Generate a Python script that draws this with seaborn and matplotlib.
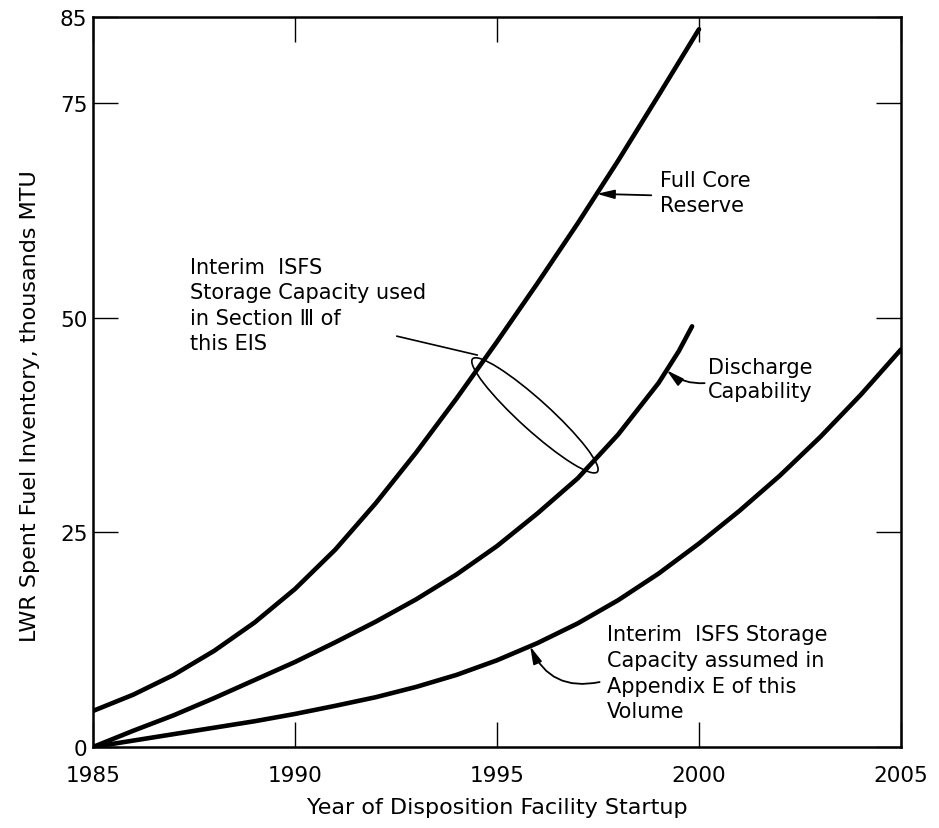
import numpy as np
import seaborn as sns
import matplotlib.pyplot as plt
from matplotlib.patches import Ellipse
from matplotlib.transforms import IdentityTransform

# ---- data (thousands MTU) ----
years_fc = [1985, 1986, 1987, 1988, 1989, 1990, 1991, 1992, 1993, 1994, 1995, 1996, 1997, 1998, 1999, 2000]
full_core = [4.2, 6.1, 8.4, 11.2, 14.5, 18.4, 23.0, 28.4, 34.3, 40.6, 47.2, 54.0, 61.0, 68.3, 75.9, 83.6]

years_dc = [1985, 1986, 1987, 1988, 1989, 1990, 1991, 1992, 1993, 1994, 1995, 1996, 1997, 1998, 1999, 1999.5, 1999.83]
discharge = [0.0, 1.9, 3.7, 5.7, 7.8, 9.9, 12.2, 14.6, 17.2, 20.1, 23.4, 27.2, 31.3, 36.4, 42.4, 46.1, 49.0]

years_ap = [1985, 1986, 1987, 1988, 1989, 1990, 1991, 1992, 1993, 1994, 1995,
            1996, 1997, 1998, 1999, 2000, 2001, 2002, 2003, 2004, 2005]
appendix_e = [0.0, 0.75, 1.5, 2.25, 3.0, 3.85, 4.8, 5.8, 7.0, 8.4, 10.1,
              12.1, 14.4, 17.1, 20.2, 23.7, 27.5, 31.6, 36.1, 41.0, 46.3]

x_ticks = [1985, 1990, 1995, 2000, 2005]
y_ticks = [0, 25, 50, 75, 85]

sns.set_style("ticks")
plt.rcParams['font.family'] = ['DejaVu Sans']
plt.rcParams['text.color'] = 'black'
plt.rcParams['axes.labelcolor'] = 'black'

fig, ax = plt.subplots(figsize=(9.39, 8.29), dpi=100)
fig.subplots_adjust(left=0.099, right=0.9595, bottom=0.0977, top=0.978)

for xs, ys in [(years_fc, full_core), (years_dc, discharge), (years_ap, appendix_e)]:
    sns.lineplot(x=xs, y=ys, ax=ax, color='black', linewidth=3.3, estimator=None)

ax.set_xlim(1985, 2005)
ax.set_ylim(0, 85)
ax.set_xticks(x_ticks)
ax.set_yticks(y_ticks)
ax.tick_params(direction='in', length=18, width=1, top=True, right=True,
               labelsize=15.5, colors='black')
ax.tick_params(axis='x', pad=13)
ax.tick_params(axis='y', pad=4)
for s in ax.spines.values():
    s.set_linewidth(1.8)
    s.set_color('black')

ax.set_xlabel('Year of Disposition Facility Startup', fontsize=16)
ax.set_ylabel('LWR Spent Fuel Inventory, thousands MTU', fontsize=16)
ax.xaxis.set_label_coords(0.5, -0.068)
ax.yaxis.set_label_coords(-0.066, 0.468)

# ---- annotations ----
tfs = 15
ax.text(0.702, 0.79, 'Full Core\nReserve', transform=ax.transAxes, fontsize=tfs,
        va='top', ha='left', linespacing=1.3)
ax.text(0.761, 0.535, 'Discharge\nCapability', transform=ax.transAxes, fontsize=tfs,
        va='top', ha='left', linespacing=1.3)
ax.text(0.12, 0.672, 'Interim  ISFS\nStorage Capacity used\nin Section \u2162 of\nthis EIS',
        transform=ax.transAxes, fontsize=tfs, va='top', ha='left', linespacing=1.35)
ax.text(0.636, 0.168, 'Interim  ISFS Storage\nCapacity assumed in\nAppendix E of this\nVolume',
        transform=ax.transAxes, fontsize=tfs, va='top', ha='left', linespacing=1.35)

arrow = dict(arrowstyle='-|>,head_length=0.7,head_width=0.18', color='black', lw=1.3,
             shrinkA=0, shrinkB=0, mutation_scale=15)
ax.annotate('', xy=(1997.47, np.interp(1997.47, years_fc, full_core)),
            xytext=(0.691, 0.756), textcoords='axes fraction', arrowprops=arrow)
ax.annotate('', xy=(1999.2, np.interp(1999.2, years_dc, discharge)),
            xytext=(0.757, 0.4986), textcoords='axes fraction',
            arrowprops=dict(arrow, connectionstyle='arc3,rad=-0.2'))
ax.annotate('', xy=(1995.82, np.interp(1995.82, years_ap, appendix_e)),
            xytext=(0.627, 0.089), textcoords='axes fraction',
            arrowprops=dict(arrow, connectionstyle='arc3,rad=-0.4'))

# ellipse grouping the two curves (drawn in pixel space so it stays round)
p1 = ax.transData.transform((1994.58, np.interp(1994.58, years_fc, full_core)))
p2 = ax.transData.transform((1997.3, np.interp(1997.3, years_dc, discharge)))
d = p2 - p1
L = np.hypot(*d)
u = d / L
ang = np.degrees(np.arctan2(d[1], d[0]))
ell = Ellipse(((p1 + p2) / 2), L + 20, 30, angle=ang, transform=IdentityTransform(),
              fill=False, ec='black', lw=1.2)
fig.add_artist(ell)
tip = p1 - u * 9 + np.array([-u[1], u[0]]) * 6
ax.annotate('', xy=tuple(tip), xycoords='figure pixels',
            xytext=(0.376, 0.563), textcoords='axes fraction',
            arrowprops=dict(arrowstyle='-', lw=1.2, color='black', shrinkA=0, shrinkB=0))

fig.savefig('out.png', dpi=100)
